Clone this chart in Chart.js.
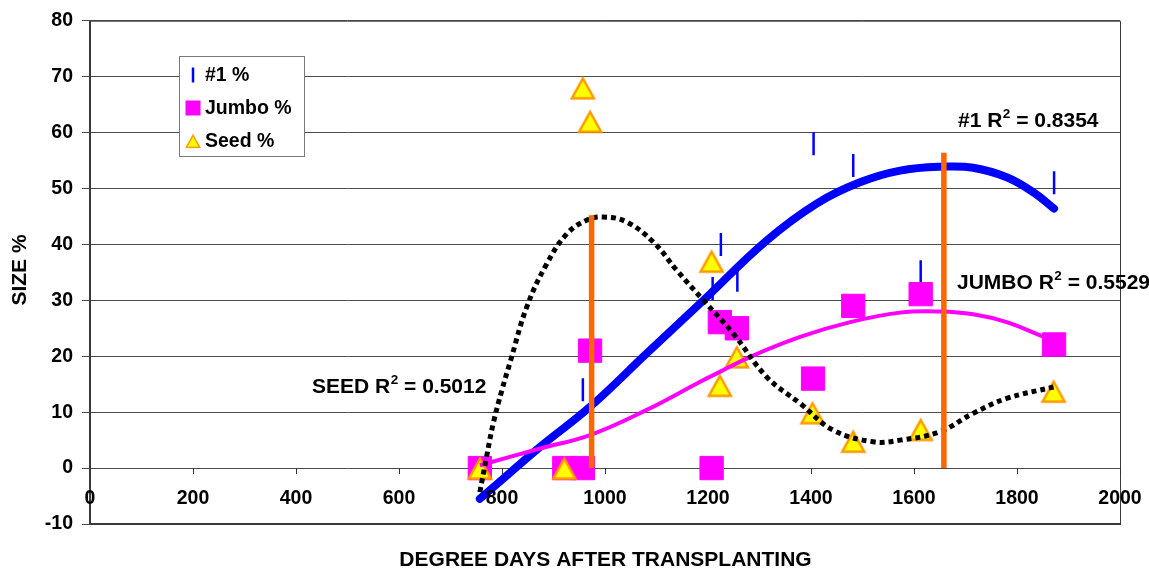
<!DOCTYPE html>
<html><head><meta charset="utf-8">
<script src="https://cdn.jsdelivr.net/npm/chart.js@4.4.1/dist/chart.umd.min.js"></script>
<style>html,body{margin:0;padding:0;background:#fff;overflow:hidden}</style>
</head><body>
<canvas id="c" width="1149" height="570"></canvas>
<script>
// ---- data ----
const seriesNames = ['#1 %', 'Jumbo %', 'Seed %'];
const onePctX = [957, 1209, 1225, 1257, 1405, 1482, 1613, 1872];
const onePctY = [14.0, 32.1, 40.0, 33.6, 58.0, 54.1, 35.1, 51.0];
const jumboX = [757, 921, 957, 971, 1207, 1223, 1256, 1404, 1482, 1613, 1872];
const jumboY = [0, 0, 0, 21.0, 0, 26.1, 25.0, 16.0, 29.0, 31.1, 22.1];
const seedX = [757, 921, 957, 971, 1207, 1223, 1256, 1403, 1482, 1613, 1871];
const seedY = [0, 0, 68.0, 62.0, 37.0, 14.8, 19.9, 9.9, 4.8, 6.9, 13.75];
// trend lines
const oneTrendX = [757, 800, 874, 971, 1081, 1191, 1314, 1411, 1495, 1573, 1657, 1715, 1780, 1832, 1872];
const oneTrendY = [-5.5, -2.1, 3.8, 10.95, 20.5, 30.0, 40.7, 47.3, 51.1, 53.2, 53.9, 53.7, 52.0, 49.3, 46.4];
const jumboTrendX = [757, 874, 971, 1081, 1184, 1223, 1282, 1379, 1476, 1573, 1650, 1715, 1780, 1845, 1871];
const jumboTrendY = [0.5, 3.5, 5.9, 10.4, 15.4, 17.2, 19.9, 23.45, 26.1, 27.8, 28.0, 27.5, 26.1, 23.75, 22.9];
const seedTrendX = [757, 770, 783, 800, 816, 848, 887, 926, 964, 997, 1042, 1094, 1139, 1191, 1249, 1314, 1379, 1443, 1521, 1573, 1650, 1715, 1780, 1871];
const seedTrendY = [-4.3, 2.0, 8.0, 14.0, 19.0, 28.8, 36.55, 41.9, 44.3, 44.9, 44.0, 40.4, 35.4, 30.0, 24.05, 16.3, 11.55, 6.8, 4.7, 5.0, 6.5, 9.8, 12.45, 14.5];
// vertical marker lines
const markLine1X = [974, 974];
const markLine1Y = [0, 45.2];
const markLine2X = [1658, 1658];
const markLine2Y = [0, 56.4];
const xTickValues = [0, 200, 400, 600, 800, 1000, 1200, 1400, 1600, 1800, 2000];
const r2Labels = [['#1 R', ' = 0.8354'], ['JUMBO R', ' = 0.5529'], ['SEED R', ' = 0.5012']];
const xTitle = 'DEGREE DAYS AFTER TRANSPLANTING';
const yTitle = 'SIZE %';

const pts = (xs, ys) => xs.map((x, i) => ({x: x, y: ys[i]}));
const FONT = "'Liberation Sans', Arial, sans-serif";

// triangle marker (centered on its bounding box, like the original)
const tri = document.createElement('canvas');
tri.width = 28; tri.height = 28;
(function(){
  const c = tri.getContext('2d');
  c.beginPath(); c.moveTo(14, 4.5); c.lineTo(25, 24.5); c.lineTo(3, 24.5); c.closePath();
  c.fillStyle = '#FFFF00'; c.fill();
  c.lineWidth = 2.5; c.strokeStyle = '#FF9900'; c.lineJoin = 'miter'; c.stroke();
})();

const deco = {
  id: 'deco',
  beforeDatasetsDraw(chart) {
    const {ctx, chartArea: a, scales: {x, y}} = chart;
    ctx.save();
    ctx.strokeStyle = '#3a3a3a';
    ctx.lineWidth = 1;
    ctx.beginPath();
    ctx.moveTo(a.left, a.top + 0.5); ctx.lineTo(a.right + 0.5, a.top + 0.5); ctx.lineTo(a.right + 0.5, a.bottom);
    ctx.stroke();
    ctx.lineWidth = 2;
    ctx.beginPath();
    ctx.moveTo(a.left, a.top); ctx.lineTo(a.left, a.bottom); ctx.lineTo(a.right + 1, a.bottom);
    ctx.stroke();
    // x axis at y = 0
    const y0 = Math.round(y.getPixelForValue(0));
    ctx.lineWidth = 1;
    ctx.strokeStyle = '#333';
    ctx.beginPath();
    xTickValues.forEach(v => {
      const px = Math.round(x.getPixelForValue(v)) + 0.5;
      ctx.moveTo(px, y0); ctx.lineTo(px, y0 + 6);
    });
    ctx.stroke();
    ctx.restore();
  },
  afterDraw(chart) {
    const {ctx, chartArea: a, scales: {x, y}} = chart;
    ctx.save();
    ctx.fillStyle = '#000';
    const y0 = y.getPixelForValue(0);
    // x tick labels
    ctx.font = 'bold 19.5px ' + FONT;
    ctx.textAlign = 'center'; ctx.textBaseline = 'middle';
    xTickValues.forEach(v => ctx.fillText(String(v), x.getPixelForValue(v), y0 + 31));
    // R^2 labels
    const sup = (parts, lx, base) => {
      ctx.textAlign = 'left'; ctx.textBaseline = 'alphabetic';
      ctx.font = 'bold 21px ' + FONT;
      ctx.fillText(parts[0], lx, base);
      let w = ctx.measureText(parts[0]).width;
      ctx.font = 'bold 13.5px ' + FONT;
      ctx.fillText('2', lx + w + 0.5, base - 9);
      const w2 = ctx.measureText('2').width;
      ctx.font = 'bold 21px ' + FONT;
      ctx.fillText(parts[1], lx + w + w2 + 0.5, base);
    };
    sup(r2Labels[0], 958, 127);
    sup(r2Labels[1], 957, 289);
    sup(r2Labels[2], 312, 393);
    // axis titles
    ctx.font = 'bold 21px ' + FONT;
    ctx.textAlign = 'center'; ctx.textBaseline = 'alphabetic';
    ctx.fillText(xTitle, 605.5, 566);
    ctx.save();
    ctx.translate(20, 270); ctx.rotate(-Math.PI / 2);
    ctx.textBaseline = 'middle';
    ctx.fillText(yTitle, 0, 0);
    ctx.restore();
    // legend
    ctx.fillStyle = '#fff';
    ctx.fillRect(179.5, 56.5, 125, 100);
    ctx.strokeStyle = '#7a7a7a'; ctx.lineWidth = 1;
    ctx.strokeRect(179.5, 56.5, 125, 100);
    const rows = [75, 108, 141];
    // #1 marker
    ctx.strokeStyle = '#0000FF'; ctx.lineWidth = 2.5;
    ctx.beginPath(); ctx.moveTo(193, rows[0] - 7.5); ctx.lineTo(193, rows[0] + 7.5); ctx.stroke();
    ctx.fillStyle = '#FF00FF';
    ctx.fillRect(185.5, rows[1] - 7.5, 15, 15);
    ctx.drawImage(tri, 193 - 8.5, rows[2] - 8.5, 17, 17);
    ctx.fillStyle = '#000';
    ctx.font = 'bold 19.5px ' + FONT;
    ctx.textAlign = 'left'; ctx.textBaseline = 'middle';
    seriesNames.forEach((n, i) => ctx.fillText(n, 205, rows[i] + 1));
    ctx.restore();
  }
};

new Chart(document.getElementById('c'), {
  type: 'scatter',
  data: {
    datasets: [
      {label: seriesNames[0], data: pts(onePctX, onePctY), pointStyle: 'line', rotation: 90,
       pointRadius: 11.5, borderWidth: 2.5, pointBorderColor: '#0000FF', borderColor: '#0000FF', order: 10},
      {label: seriesNames[1], data: pts(jumboX, jumboY), pointStyle: 'rect', pointRadius: 16.5,
       backgroundColor: '#FF00FF', borderColor: '#FF00FF', borderWidth: 1, order: 9},
      {label: seriesNames[2], data: pts(seedX, seedY), pointStyle: tri, pointRadius: 14, order: 8},
      {label: '#1 trend', data: pts(oneTrendX, oneTrendY), showLine: true, pointRadius: 0,
       borderColor: '#0000FF', borderWidth: 8, borderCapStyle: 'round', tension: 0.4, order: 7},
      {label: 'Jumbo trend', data: pts(jumboTrendX, jumboTrendY), showLine: true, pointRadius: 0,
       borderColor: '#FF00FF', borderWidth: 4, tension: 0.4, order: 6},
      {label: 'Seed trend', data: pts(seedTrendX, seedTrendY), showLine: true, pointRadius: 0,
       borderColor: '#000000', borderWidth: 5, borderDash: [5, 4], borderCapStyle: 'butt', tension: 0.4, order: 5},
      {label: 'mark1', data: pts(markLine1X, markLine1Y), showLine: true, pointRadius: 0,
       borderColor: '#FF6600', borderWidth: 5.5, order: 4},
      {label: 'mark2', data: pts(markLine2X, markLine2Y), showLine: true, pointRadius: 0,
       borderColor: '#FF6600', borderWidth: 5.5, order: 3}
    ]
  },
  options: {
    responsive: false,
    animation: false,
    devicePixelRatio: 1,
    layout: {padding: {left: 0, top: 20, right: 29, bottom: 46}},
    plugins: {legend: {display: false}, tooltip: {enabled: false}},
    scales: {
      x: {type: 'linear', min: 0, max: 2000, display: false},
      y: {
        type: 'linear', min: -10, max: 80,
        ticks: {stepSize: 10, padding: 9, color: '#000', font: {family: FONT, size: 19.5, weight: 'bold'}},
        grid: {color: '#4a4a4a', lineWidth: 1, tickLength: 8, drawTicks: true},
        border: {display: false},
        afterFit(s) { s.width = 90; }
      }
    }
  },
  plugins: [deco]
});
</script>
</body></html>
